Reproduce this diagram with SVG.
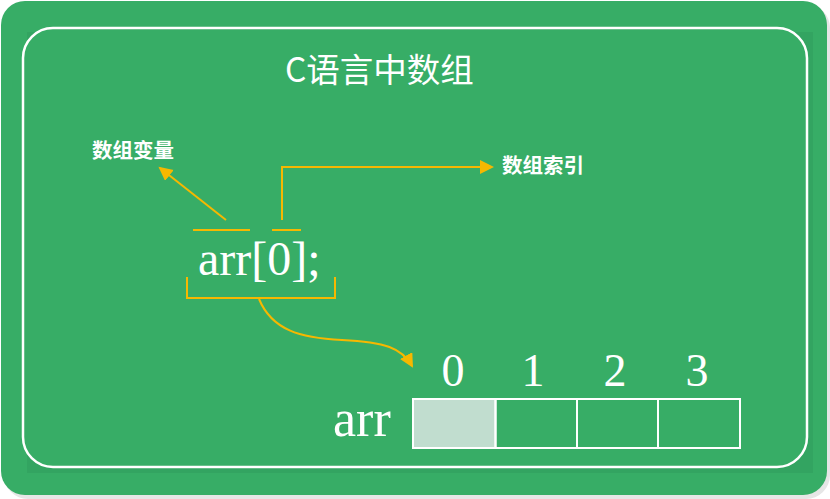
<svg xmlns="http://www.w3.org/2000/svg" width="830" height="499" viewBox="0 0 830 499">
<style>
.cn{font-family:"Noto Sans CJK SC","Noto Sans",sans-serif;fill:#ffffff}
.sf{font-family:"Liberation Serif","DejaVu Serif",serif;fill:#ffffff}
.yl{stroke:#F6B800;stroke-width:2;fill:none}
.cell{stroke:#ffffff;stroke-width:2}
</style>
<defs>
<marker id="ah" markerWidth="16" markerHeight="16" refX="12" refY="7" orient="auto" markerUnits="userSpaceOnUse">
<path d="M0,0 L14,7 L0,14 Z" fill="#F6B800"/>
</marker>
</defs>
<rect x="0" y="0" width="830" height="499" fill="#ffffff"/>
<rect x="4" y="4" width="826" height="495" rx="24" fill="#e6e6e6"/>
<rect x="1" y="1" width="826" height="494" rx="24" fill="#37AD66"/>
<rect x="27" y="32" width="786" height="441" fill="#33A461"/>
<rect x="23" y="28" width="784" height="439" rx="30" fill="#37AD66" stroke="#ffffff" stroke-width="2.5"/>
<g id="title"><text class="cn" x="285" y="82" font-size="33.5">C语言中数组</text></g>
<g id="label-var"><text class="cn" x="92" y="158" font-size="20.5" font-weight="bold">数组变量</text></g>
<g id="label-index"><text class="cn" x="502" y="173" font-size="20.5" font-weight="bold">数组索引</text></g>
<g id="expr">
<text class="sf" x="198" y="275" font-size="48">arr[0];</text>
<line class="yl" x1="193" y1="230" x2="250" y2="230"/>
<line class="yl" x1="272" y1="230" x2="301" y2="230"/>
<path class="yl" d="M187,277 V298 H335 V277"/>
</g>
<g id="connectors">
<line class="yl" x1="226" y1="220" x2="160" y2="168" marker-end="url(#ah)"/>
<path class="yl" d="M282,220 V167 H492" marker-end="url(#ah)"/>
<path class="yl" d="M259,299 C272,330 300,338 342,340 C385,342 402,348 412,366" marker-end="url(#ah)"/>
</g>
<g id="array">
<text class="sf" x="453" y="386" font-size="46" text-anchor="middle">0</text>
<text class="sf" x="533" y="386" font-size="46" text-anchor="middle">1</text>
<text class="sf" x="615" y="386" font-size="46" text-anchor="middle">2</text>
<text class="sf" x="697" y="386" font-size="46" text-anchor="middle">3</text>
<text class="sf" x="333" y="436" font-size="52">arr</text>
<rect class="cell" x="413" y="399" width="82.5" height="49" fill="#C1DDCF"/>
<rect class="cell" x="495.5" y="399" width="81.5" height="49" fill="none"/>
<rect class="cell" x="577" y="399" width="81" height="49" fill="none"/>
<rect class="cell" x="658" y="399" width="82" height="49" fill="none"/>
</g>
</svg>
